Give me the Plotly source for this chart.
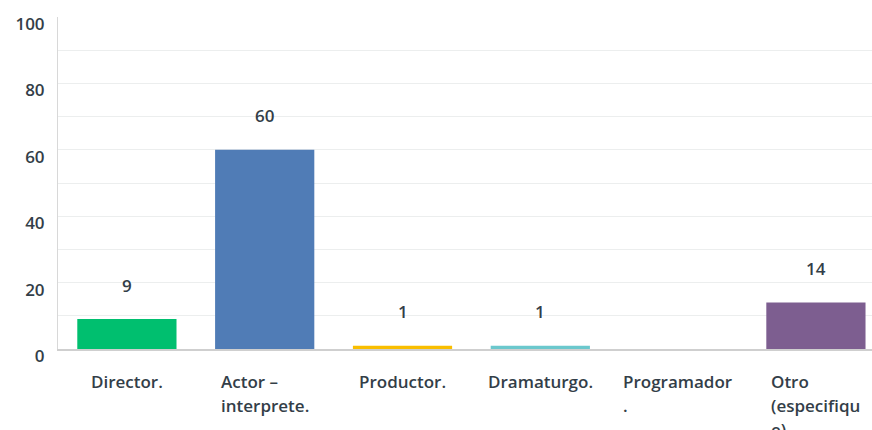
import plotly.graph_objects as go

# Survey answers: role in the performing arts
categories = ["Director.", "Actor –<br>interprete.", "Productor.", "Dramaturgo.",
              "Programador<br>.", "Otro<br>(especifiqu<br>e)"]
values = [9, 60, 1, 1, 0, 14]
colors = ["#00bf6f", "#507cb6", "#f9be00", "#6bc8cd", "#ff8b4f", "#7d5e90"]
y_ticks = [0, 20, 40, 60, 80, 100]

FONT = "Open Sans"
TEXT_COLOR = "#333e48"
LABEL_SIZE = 17

x_pos = list(range(len(categories)))

fig = go.Figure(
    go.Bar(
        x=x_pos,
        y=values,
        marker=dict(color=colors, line=dict(width=0)),
        width=0.72,
        hoverinfo="skip",
    )
)

# Value labels floating above each bar (none for zero answers)
for xi, v in zip(x_pos, values):
    if v > 0:
        fig.add_annotation(
            x=xi, y=v, text=str(v), showarrow=False,
            yshift=34, yanchor="middle",
            font=dict(family=FONT, size=17, color=TEXT_COLOR, weight=600),
        )

# Category labels: block centred under the bar, lines left-aligned.
# The outer font size sets the line spacing; the span sets the glyph size.
for xi, c in zip(x_pos, categories):
    lines = c.split("<br>")
    txt = "<br>".join(f'<span style="font-size:{LABEL_SIZE}px">{ln}</span>' for ln in lines)
    fig.add_annotation(
        x=xi, y=0, yref="y", text=txt, showarrow=False,
        xanchor="center", yanchor="top", align="left",
        yshift=-19,
        font=dict(family=FONT, size=18.5, color=TEXT_COLOR, weight=600),
    )

fig.update_layout(
    width=872, height=430,
    margin=dict(l=58, r=0, t=17, b=81),
    paper_bgcolor="white", plot_bgcolor="white",
    showlegend=False,
    xaxis=dict(
        range=[-0.5, 5.407],
        showticklabels=False, showgrid=False, zeroline=False,
        showline=True, linecolor="#cfcfcf", linewidth=2,
        fixedrange=True,
    ),
    yaxis=dict(
        range=[0, 100],
        tickvals=y_ticks,
        tickfont=dict(family=FONT, size=17, color=TEXT_COLOR, weight=600),
        ticklabelshift=7,
        ticklabelstandoff=9,
        showgrid=True, gridcolor="#eceeee", gridwidth=1,
        minor=dict(dtick=10, showgrid=True, gridcolor="#eceeee"),
        zeroline=False,
        showline=True, linecolor="#d8d8d8", linewidth=1,
        fixedrange=True,
    ),
)

fig.write_html("out.html")
